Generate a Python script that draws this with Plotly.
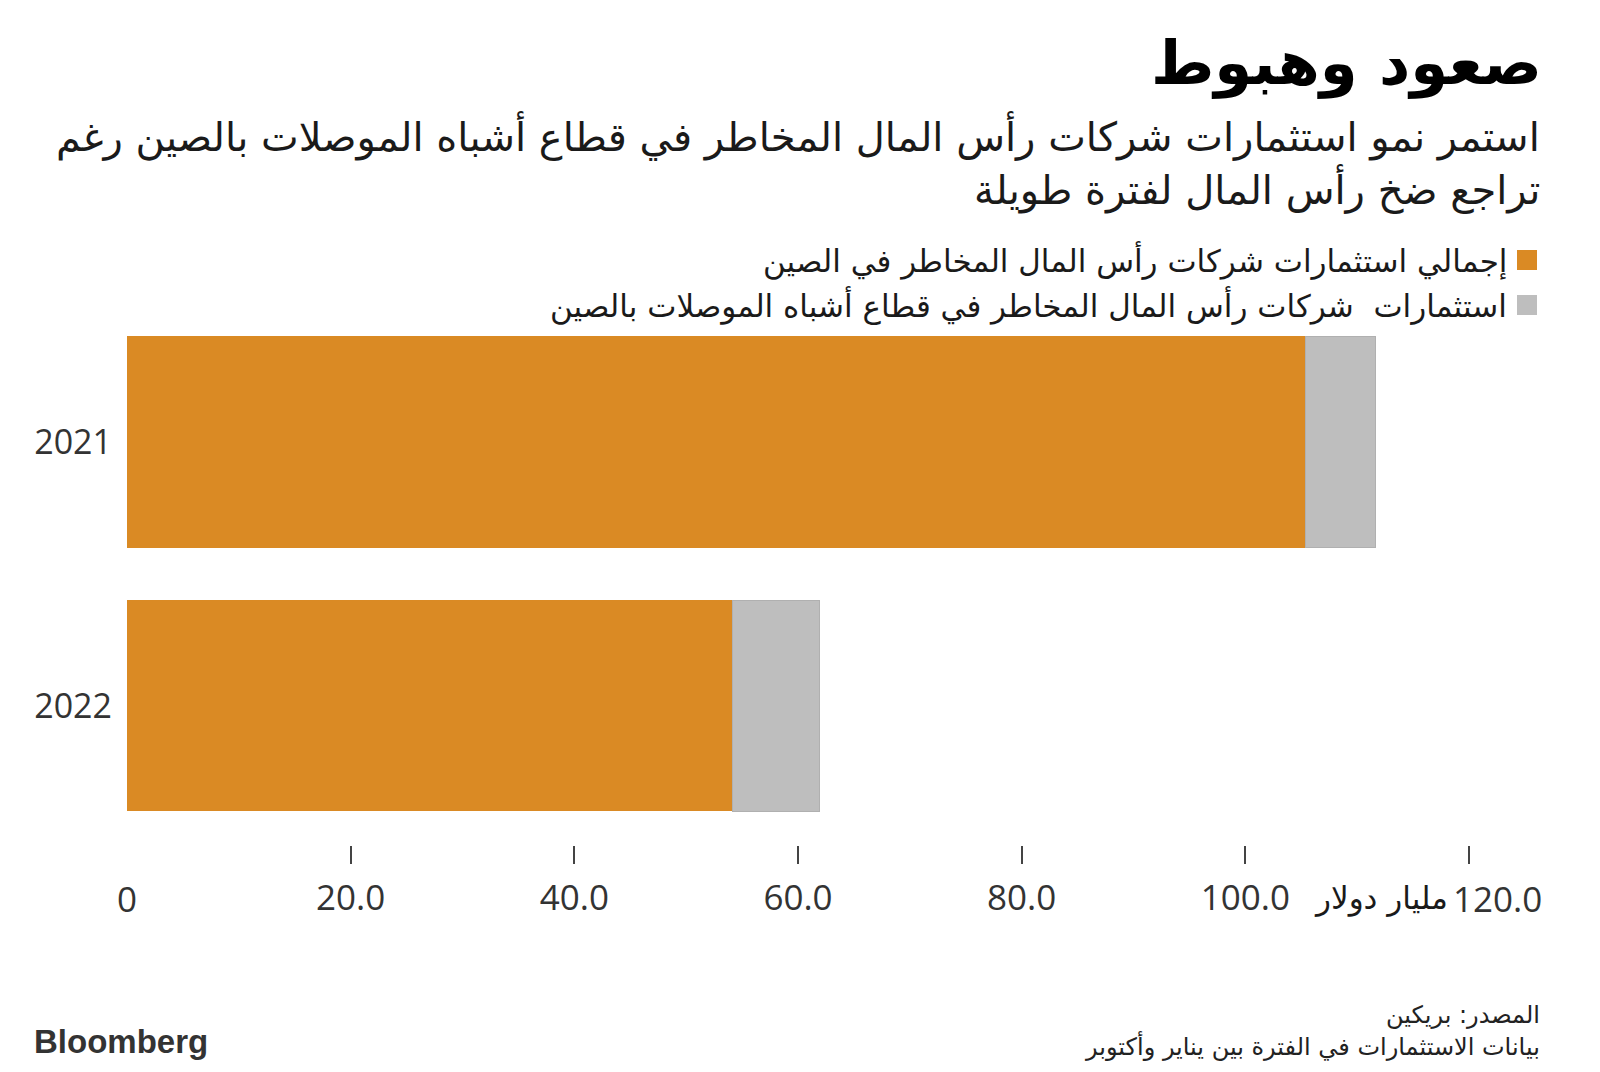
import plotly.graph_objects as go

# ---- data ----
years = ["2021", "2022"]
total_vc = [105.4, 54.1]          # إجمالي استثمارات شركات رأس المال المخاطر في الصين
semi_vc = [6.2, 7.8]              # استثمارات شركات رأس المال المخاطر في قطاع أشباه الموصلات بالصين
series_names = ["إجمالي استثمارات شركات رأس المال المخاطر في الصين",
                "استثمارات  شركات رأس المال المخاطر في قطاع أشباه الموصلات بالصين"]
tick_vals = [20, 40, 60, 80, 100, 120]
tick_text = ["20.0", "40.0", "60.0", "80.0", "100.0", ""]
unit_label = "مليار دولار"

title = "صعود وهبوط"
subtitle_lines = ["استمر نمو استثمارات شركات رأس المال المخاطر في قطاع أشباه الموصلات بالصين رغم",
                  "تراجع ضخ رأس المال لفترة طويلة"]
source_lines = ["المصدر: بريكين", "بيانات الاستثمارات في الفترة بين يناير وأكتوبر"]

ORANGE = "#DA8A24"
GREY = "#BEBEBE"
AR_FONT = "DejaVu Sans"
NUM_FONT = "Open Sans"

W, H = 1600, 1072
L, R, T, B = 127, 1600 - 1469, 310, 1072 - 845
PW, PH = W - L - R, H - T - B


def px(x):
    return (x - L) / PW


def py(y_from_top):
    return ((H - y_from_top) - B) / PH


fig = go.Figure()
fig.add_trace(go.Bar(y=years, x=total_vc, orientation="h", name=series_names[0],
                     marker=dict(color=ORANGE, line=dict(width=0))))
fig.add_trace(go.Bar(y=years, x=semi_vc, orientation="h", name=series_names[1],
                     marker=dict(color=GREY, line=dict(width=1, color="#B0B0B0"))))

fig.update_layout(
    width=W, height=H, barmode="stack", bargap=0.2,
    margin=dict(l=L, r=R, t=T, b=B),
    paper_bgcolor="white", plot_bgcolor="white", showlegend=False,
    xaxis=dict(range=[0, 120], tickmode="array", tickvals=tick_vals, ticktext=tick_text,
               ticks="outside", ticklen=18, tickwidth=1.5, tickcolor="#444",
               showgrid=False, zeroline=False, showline=False,
               tickfont=dict(family=NUM_FONT, size=35, color="#333"),
               ticklabelstandoff=4),
    yaxis=dict(autorange=False, range=[1.527, -0.5], type="category",
               showgrid=False, zeroline=False, showline=False, ticks="",
               tickfont=dict(family=NUM_FONT, size=34, color="#333"),
               ticklabelstandoff=14),
)

ann = []
ann.append(dict(text="<b>" + title + "</b>", x=px(1544), y=py(63),
                showarrow=False, xanchor="right", yanchor="middle",
                font=dict(family="DejaVu Sans", size=61, color="#000")))
for i, line in enumerate(subtitle_lines):
    ann.append(dict(text=line, x=px(1542), y=py(136 + 53 * i), showarrow=False,
                    xanchor="right", yanchor="middle",
                    font=dict(family=AR_FONT, size=40, color="#1a1a1a")))
for i, (name, col) in enumerate(zip(series_names, [ORANGE, GREY])):
    yc = 260 + 45 * i
    ann.append(dict(text=name, x=px(1509), y=py(yc), showarrow=False, xanchor="right",
                    yanchor="middle", font=dict(family=AR_FONT, size=31, color="#1a1a1a")))
    fig.add_shape(type="rect", xref="paper", yref="paper",
                  x0=px(1517), x1=px(1537), y0=py(yc + 10), y1=py(yc - 10),
                  fillcolor=col, line=dict(width=0))
for i, line in enumerate(source_lines):
    ann.append(dict(text=line, x=px(1542), y=py(1015 + 31 * i), showarrow=False,
                    xanchor="right", yanchor="middle",
                    font=dict(family=AR_FONT, size=24, color="#222")))
ann.append(dict(text="<b>Bloomberg</b>", x=px(32), y=py(1041), showarrow=False,
                xanchor="left", yanchor="middle",
                font=dict(family="Liberation Sans Narrow, Liberation Sans", size=33, color="#333")))
for a in ann:
    a["xref"] = "paper"; a["yref"] = "paper"

# axis end labels (data-positioned)
ann.append(dict(text="0", x=0, xref="x", y=0, yref="paper", yshift=-53, showarrow=False,
                xanchor="center", yanchor="middle",
                font=dict(family=NUM_FONT, size=35, color="#333")))
ann.append(dict(text="120.0", x=tick_vals[-1], xref="x", y=0, yref="paper", yshift=-53,
                xshift=-18, showarrow=False, xanchor="left", yanchor="middle",
                font=dict(family=NUM_FONT, size=35, color="#333")))
ann.append(dict(text=unit_label, x=tick_vals[-1], xref="x", y=0, yref="paper", yshift=-53,
                xshift=-19, showarrow=False, xanchor="right", yanchor="middle",
                font=dict(family=AR_FONT, size=31, color="#1a1a1a")))

fig.update_layout(annotations=ann)
fig.write_html("out.html")
